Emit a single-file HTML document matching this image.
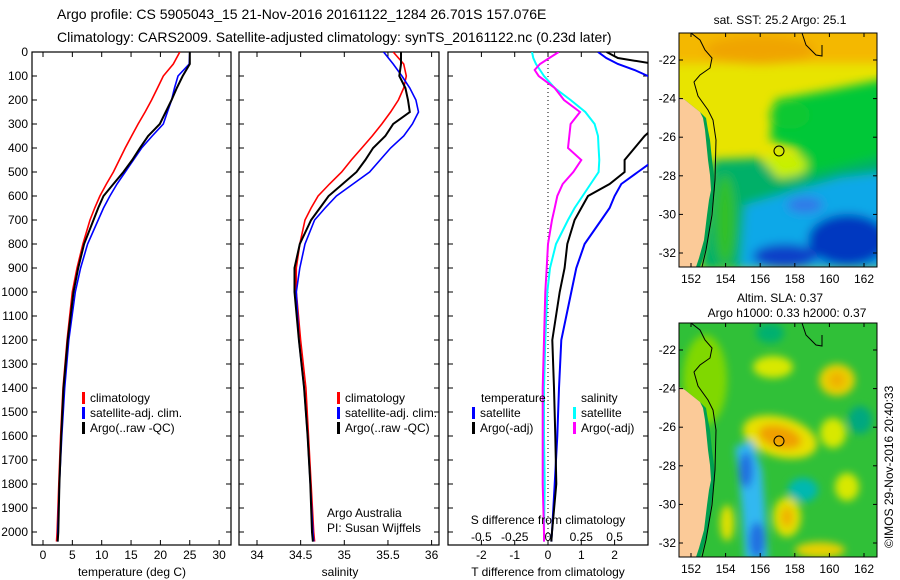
<!DOCTYPE html>
<html><head><meta charset="utf-8">
<style>
html,body{margin:0;padding:0;background:#fff;}
svg{display:block;font-family:"Liberation Sans",sans-serif;}
text{fill:#000;}
</style></head>
<body>
<svg id="fig" width="900" height="580" viewBox="0 0 900 580" xmlns="http://www.w3.org/2000/svg">
<defs>
<clipPath id="c1"><rect x="32" y="52" width="199" height="493"/></clipPath>
<clipPath id="c2"><rect x="239" y="52" width="200" height="493"/></clipPath>
<clipPath id="c3"><rect x="448" y="52" width="200" height="493"/></clipPath>
<clipPath id="m1"><rect x="679" y="33" width="198" height="234"/></clipPath>
<clipPath id="m2"><rect x="679" y="323" width="198" height="234"/></clipPath>
<filter id="bl" x="-20%" y="-20%" width="140%" height="140%"><feGaussianBlur stdDeviation="5"/></filter>
<filter id="bl2" x="-20%" y="-20%" width="140%" height="140%"><feGaussianBlur stdDeviation="4"/></filter>
</defs>
<text x="57" y="19" font-size="14">Argo profile: CS 5905043_15 21-Nov-2016 20161122_1284 26.701S 157.076E</text>
<text x="57" y="42" font-size="14">Climatology: CARS2009. Satellite-adjusted climatology: synTS_20161122.nc (0.23d later)</text>

<g id="p1"></g>
<g id="p2"></g>
<g id="p3"></g>

<!-- SST map -->
<g>
<text x="780" y="24" font-size="12" text-anchor="middle">sat. SST: 25.2 Argo: 25.1</text>
<g clip-path="url(#m1)">
<rect x="679" y="33" width="198" height="234" fill="#e8e400"/>
<g filter="url(#bl)">
<rect x="670" y="25" width="215" height="38" fill="#f4b800"/>
<ellipse cx="760" cy="50" rx="55" ry="14" fill="#f0a400"/>
<polygon points="775,100 830,90 890,78 890,270 800,270 770,190 790,170 800,150 770,140" fill="#00c838"/>
<ellipse cx="790" cy="115" rx="20" ry="14" fill="#10c830"/>
<ellipse cx="785" cy="165" rx="22" ry="12" fill="#c8f000"/>
<polygon points="712,160 760,158 780,180 820,172 890,155 890,270 700,270" fill="#00b068"/>
<polygon points="745,205 790,192 840,178 890,172 890,270 740,270" fill="#10a8e8"/>
<ellipse cx="848" cy="240" rx="40" ry="26" fill="#0038c0"/>
<ellipse cx="785" cy="256" rx="32" ry="12" fill="#1040c8"/>
<ellipse cx="805" cy="205" rx="18" ry="8" fill="#3078e8"/>
<ellipse cx="725" cy="220" rx="10" ry="45" fill="#30c028"/>
</g>
<polygon points="679,97 685,100 700,112 706,118 708,130 710,140 712,160 714,175 715,190 713,200 711,215 708,240 703,258 700,267 679,267" fill="#00a050"/>
<polygon points="679,97 685,100 700,112 703,118 705,130 706,140 708,160 710,175 711,190 709,200 707,215 704,240 699,258 696,267 679,267" fill="#fbca98"/>
<path d="M691,33 L700,40 L705,50 L712,58 L710,68 L700,75 L694,82 L698,96 L708,110 L713,120 L716,140 L715,180 L712,215 L706,250 L702,267" fill="none" stroke="#000" stroke-width="1"/>
<path d="M802,33 L806,45 L816,55 L822,56 L822,45" fill="none" stroke="#000" stroke-width="1"/>
<circle cx="779" cy="151" r="5" fill="none" stroke="#000" stroke-width="1"/>
</g>
<rect x="679" y="33" width="198" height="234" fill="none" stroke="#000"/>
</g>

<!-- SLA map -->
<g>
<text x="780" y="302" font-size="12" text-anchor="middle">Altim. SLA: 0.37</text>
<text x="787" y="317" font-size="12" text-anchor="middle">Argo h1000: 0.33 h2000: 0.37</text>
<g clip-path="url(#m2)">
<rect x="679" y="323" width="198" height="234" fill="#30c038"/>
<g filter="url(#bl2)">
<ellipse cx="705" cy="380" rx="22" ry="45" fill="#80d800"/>
<ellipse cx="770" cy="333" rx="14" ry="10" fill="#00b070"/>
<ellipse cx="773" cy="367" rx="20" ry="11" fill="#d8e800"/>
<ellipse cx="837" cy="380" rx="18" ry="16" fill="#e8d000"/>
<ellipse cx="837" cy="380" rx="8" ry="8" fill="#f0b000"/>
<ellipse cx="780" cy="437" rx="38" ry="20" fill="#e8e000" transform="rotate(15 780 437)"/>
<ellipse cx="780" cy="437" rx="22" ry="11" fill="#f0a000" transform="rotate(15 780 437)"/>
<ellipse cx="833" cy="433" rx="13" ry="15" fill="#d8e800"/>
<ellipse cx="860" cy="420" rx="12" ry="14" fill="#00a880"/>
<polygon points="735,447 752,440 762,470 765,510 768,560 745,560 742,510 738,470" fill="#30b8f0"/>
<ellipse cx="746" cy="470" rx="7" ry="18" fill="#2070e0"/>
<ellipse cx="757" cy="540" rx="8" ry="18" fill="#2070e0"/>
<ellipse cx="803" cy="490" rx="15" ry="12" fill="#00b8b0"/>
<ellipse cx="787" cy="517" rx="14" ry="20" fill="#e0e000"/>
<ellipse cx="787" cy="517" rx="6" ry="10" fill="#f0b000"/>
<ellipse cx="847" cy="487" rx="12" ry="14" fill="#d8e800"/>
<ellipse cx="727" cy="523" rx="7" ry="18" fill="#e0e000"/>
<ellipse cx="820" cy="550" rx="25" ry="8" fill="#e8d000"/>
</g>
<polygon points="679,387 685,390 700,402 706,408 708,420 710,430 712,450 714,465 715,480 713,490 711,505 708,530 703,548 700,557 679,557" fill="#00a050"/>
<polygon points="679,387 685,390 700,402 703,408 705,420 706,430 708,450 710,465 711,480 709,490 707,505 704,530 699,548 696,557 679,557" fill="#fbca98"/>
<path d="M691,323 L700,330 L705,340 L712,348 L710,358 L700,365 L694,372 L698,386 L708,400 L713,410 L716,430 L715,470 L712,505 L706,540 L702,557" fill="none" stroke="#000" stroke-width="1"/>
<path d="M802,323 L806,335 L816,345 L822,346 L822,335" fill="none" stroke="#000" stroke-width="1"/>
<circle cx="779" cy="441" r="5" fill="none" stroke="#000" stroke-width="1"/>
</g>
<rect x="679" y="323" width="198" height="234" fill="none" stroke="#000"/>
</g>
<g id="mapaxes"></g>
<text transform="translate(893,548) rotate(-90)" font-size="12">©IMOS 29-Nov-2016 20:40:33</text>
</svg>
<script>
// ---- data ----
var depths = [0,50,100,150,200,250,300,350,400,450,500,550,600,650,700,800,900,1000,1200,1400,1600,1800,2000,2040];
var tempClim = [23.3,22.2,20.5,19.5,18.5,17.4,16.2,15.1,14.0,13.0,12.0,10.8,9.7,8.8,8.0,6.8,5.8,5.0,4.1,3.4,3.0,2.7,2.4,2.3];
var tempSat = [25.0,24.9,23.0,22.4,21.9,21.2,20.5,18.6,16.8,15.4,14.0,12.6,11.4,10.3,9.4,7.6,6.4,5.5,4.4,3.7,3.2,2.8,2.5,2.5];
var tempArgo = [25.0,25.0,23.8,22.8,21.9,20.9,19.9,17.9,16.5,15.2,13.7,12.0,10.3,9.4,8.6,7.0,6.0,5.2,4.2,3.5,3.1,2.8,2.6,2.5];
var salClim = [35.56,35.68,35.71,35.68,35.62,35.53,35.43,35.32,35.20,35.08,34.97,34.83,34.70,34.62,34.55,34.49,34.45,34.45,34.50,34.56,34.59,34.62,34.65,34.66];
var salSat = [35.45,35.56,35.66,35.75,35.82,35.85,35.78,35.68,35.53,35.41,35.29,35.10,34.91,34.78,34.66,34.55,34.49,34.45,34.48,34.54,34.58,34.61,34.64,34.65];
var salArgo = [35.65,35.65,35.63,35.70,35.73,35.75,35.56,35.47,35.33,35.24,35.14,34.98,34.82,34.72,34.62,34.49,34.43,34.43,34.48,34.54,34.58,34.61,34.63,34.64];
var diffDepths = [0,25,50,75,100,150,200,250,300,350,400,450,500,550,600,650,700,800,900,1000,1200,1400,1600,1800,2000,2040];
var tDiffSat = [1.5,1.75,2.1,2.6,3.0,3.5,3.8,4.0,4.2,3.9,3.6,3.2,2.7,2.2,2.0,1.85,1.6,1.1,0.85,0.7,0.4,0.33,0.28,0.2,0.12,0.1];
var tDiffArgo = [1.76,2.1,3.2,3.5,3.7,4.0,4.0,3.8,3.3,2.9,2.6,2.3,2.3,1.85,1.2,1.0,0.8,0.58,0.5,0.35,0.13,0.18,0.22,0.25,0.12,0.1];
var sDiffSat = [-0.12,-0.11,-0.09,-0.06,-0.03,0.05,0.17,0.28,0.35,0.375,0.38,0.385,0.38,0.32,0.26,0.2,0.15,0.06,0.015,-0.005,-0.02,-0.03,-0.03,-0.025,-0.03,-0.03];
var sDiffArgo = [0.08,0.01,-0.06,-0.1,-0.07,0.05,0.12,0.24,0.17,0.16,0.15,0.25,0.19,0.11,0.07,0.05,0.03,0.0,-0.01,-0.02,-0.03,-0.04,-0.04,-0.04,-0.03,-0.03];
var depthTicks = [0,100,200,300,400,500,600,700,800,900,1000,1100,1200,1300,1400,1500,1600,1700,1800,1900,2000];
var tempTicks = [0,5,10,15,20,25,30];
var salTicks = [34,34.5,35,35.5,36];
var tDiffTicks = [-2,-1,0,1,2];
var sDiffTicks = [-0.5,-0.25,0,0.25,0.5];
var sDiffTickLabels = ["-0.5","-0.25","0","0.25","0.5"];
var lonTicks = [152,154,156,158,160,162];
var latTicks = [-22,-24,-26,-28,-30,-32];

// ---- scales ----
function yD(d){return 52 + d*0.24;}
function xT(t){return 43 + t*5.87;}
function xS(s){return 257 + (s-34)*87.3;}
function xTd(t){return 548 + t*33.3;}
function xSd(s){return 548 + s*133.2;}
function xLon(l){return 691 + (l-152)*17.3;}
function yLat(l){return 60 + (-22-l)*19.3;}

var NS='http://www.w3.org/2000/svg';
function mk(tag, attrs, parent){var e=document.createElementNS(NS,tag);for(var k in attrs)e.setAttribute(k,attrs[k]);parent.appendChild(e);return e;}
function txt(parent,x,y,s,anchor,size){var t=mk('text',{x:x,y:y,'font-size':size||12,'text-anchor':anchor||'start'},parent);t.textContent=s;return t;}

function frame(g,x0,x1,name){
  var r=mk('rect',{x:x0,y:52,width:x1-x0,height:493,fill:'none',stroke:'#000','stroke-width':1.2},g);
  
  
  depthTicks.forEach(function(d){
    mk('line',{x1:x0,x2:x0+5,y1:yD(d),y2:yD(d),stroke:'#000'},g);
    mk('line',{x1:x1,x2:x1-5,y1:yD(d),y2:yD(d),stroke:'#000'},g);
  });
}
function xticks(g,vals,fx,labels,ly,top){
  vals.forEach(function(v,i){
    var x=fx(v);
    mk('line',{x1:x,x2:x,y1:545,y2:540,stroke:'#000'},g);
    if(top) mk('line',{x1:x,x2:x,y1:52,y2:57,stroke:'#000'},g);
    var t=txt(g,x,ly,labels?labels[i]:String(v),'middle',12);
    
    
  });
}
function line(g,ds,vals,fx,color,w,clip,name){
  var pts=ds.map(function(d,i){return fx(vals[i]).toFixed(1)+','+yD(d).toFixed(1);}).join(' ');
  var p=mk('polyline',{points:pts,fill:'none',stroke:color,'stroke-width':w,'clip-path':'url(#'+clip+')'},g);
  
  
}
function legend(g,x,y,color,label){
  mk('rect',{x:x,y:y-10,width:3,height:12,fill:color},g);
  var t=txt(g,x+8,y,label,'start',12);
  
  
}

// Panel 1
var p1=document.getElementById('p1');
frame(p1,32,231,'temperature-frame');
depthTicks.forEach(function(d){
  var t=txt(p1,28,yD(d)+4,String(d),'end',12);
  
  
});
xticks(p1,tempTicks,xT,null,559,true);
var xl1=txt(p1,132,576,'temperature (deg C)','middle',12);


line(p1,depths,tempClim,xT,'#ff0000',1.6,'c1','temp-climatology-line');
line(p1,depths,tempSat,xT,'#0000ff',1.6,'c1','temp-satellite-line');
line(p1,depths,tempArgo,xT,'#000000',2,'c1','temp-argo-line');
legend(p1,82,402,'#ff0000','climatology');
legend(p1,82,417,'#0000ff','satellite-adj. clim.');
legend(p1,82,432,'#000000','Argo(..raw -QC)');

// Panel 2
var p2=document.getElementById('p2');
frame(p2,239,439,'salinity-frame');
xticks(p2,salTicks,xS,null,559,true);
var xl2=txt(p2,340,576,'salinity','middle',12);


line(p2,depths,salClim,xS,'#ff0000',1.6,'c2','sal-climatology-line');
line(p2,depths,salSat,xS,'#0000ff',1.6,'c2','sal-satellite-line');
line(p2,depths,salArgo,xS,'#000000',2,'c2','sal-argo-line');
legend(p2,337,402,'#ff0000','climatology');
legend(p2,337,417,'#0000ff','satellite-adj. clim.');
legend(p2,337,432,'#000000','Argo(..raw -QC)');
var a1=txt(p2,327,517,'Argo Australia','start',12);


var a2=txt(p2,327,532,'PI: Susan Wijffels','start',12);



// Panel 3
var p3=document.getElementById('p3');
frame(p3,448,648,'difference-frame');
var z=mk('line',{x1:xTd(0),x2:xTd(0),y1:52,y2:545,stroke:'#000','stroke-dasharray':'1,3'},p3);


tDiffTicks.forEach(function(v){
  var x=xTd(v);
  mk('line',{x1:x,x2:x,y1:545,y2:540,stroke:'#000'},p3);
  mk('line',{x1:x,x2:x,y1:52,y2:57,stroke:'#000'},p3);
  var t=txt(p3,x,559,String(v),'middle',12);
  
  
});
sDiffTicks.forEach(function(v,i){
  var t=txt(p3,xSd(v),541,sDiffTickLabels[i],'middle',12);
  
  
});
line(p3,diffDepths,sDiffSat,xSd,'#00ffff',2,'c3','s-diff-satellite-line');
line(p3,diffDepths,sDiffArgo,xSd,'#ff00ff',2,'c3','s-diff-argo-line');
line(p3,diffDepths,tDiffSat,xTd,'#0000ff',2,'c3','t-diff-satellite-line');
line(p3,diffDepths,tDiffArgo,xTd,'#000000',2,'c3','t-diff-argo-line');
var s1=txt(p3,548,524,'S difference from climatology','middle',12);


var s2=txt(p3,548,576,'T difference from climatology','middle',12);


var h1=txt(p3,481,402,'temperature','start',12);


var h2=txt(p3,581,402,'salinity','start',12);


legend(p3,472,417,'#0000ff','satellite');
legend(p3,472,432,'#000000','Argo(-adj)');
legend(p3,573,417,'#00ffff','satellite');
legend(p3,573,432,'#ff00ff','Argo(-adj)');

// Map axes
var ma=document.getElementById('mapaxes');
[[33,267],[323,557]].forEach(function(b,mi){
  var off=mi===0?0:290;
  lonTicks.forEach(function(l){
    var x=xLon(l);
    mk('line',{x1:x,x2:x,y1:b[1],y2:b[1]-4,stroke:'#000'},ma);
    mk('line',{x1:x,x2:x,y1:b[0],y2:b[0]+4,stroke:'#000'},ma);
    var t=txt(ma,x,b[1]+16,String(l),'middle',12);
    
    
  });
  latTicks.forEach(function(l){
    var y=yLat(l)+off;
    mk('line',{x1:679,x2:683,y1:y,y2:y,stroke:'#000'},ma);
    mk('line',{x1:877,x2:873,y1:y,y2:y,stroke:'#000'},ma);
    var t=txt(ma,676,y+4,String(l),'end',12);
    
    
  });
});
</script>
</body></html>
